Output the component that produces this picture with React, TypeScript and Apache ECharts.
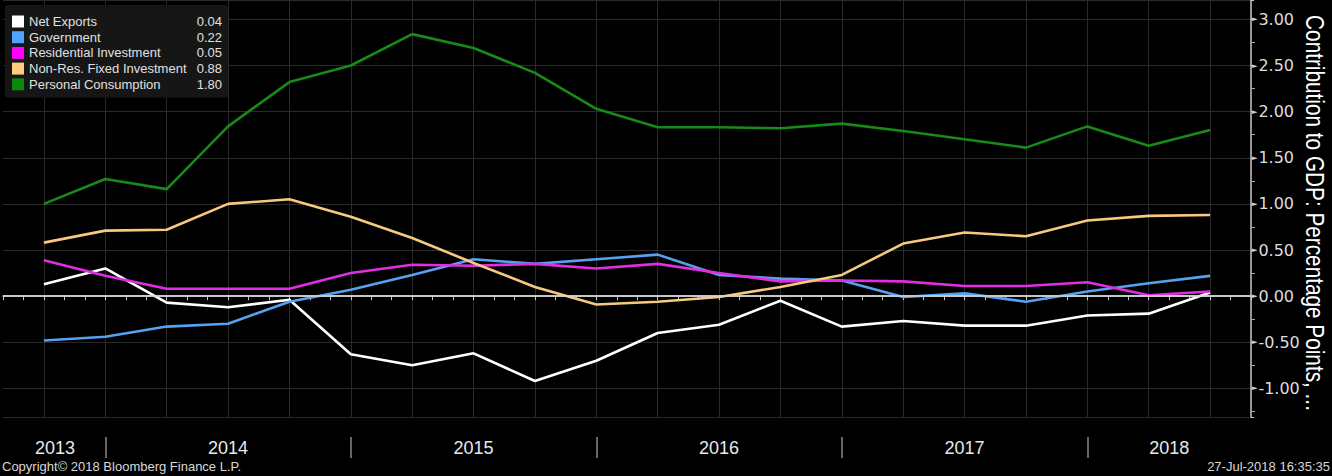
import React, { useEffect, useRef } from "react";
import * as echarts from "echarts";

// Quarter-end dates of the observations (YYYY-MM)
const quarterEnds = [
  "2013-09", "2013-12", "2014-03", "2014-06", "2014-09", "2014-12",
  "2015-03", "2015-06", "2015-09", "2015-12", "2016-03", "2016-06",
  "2016-09", "2016-12", "2017-03", "2017-06", "2017-09", "2017-12",
  "2018-03", "2018-06",
];

const netExports = [0.13, 0.30, -0.07, -0.12, -0.04, -0.63, -0.75, -0.62, -0.92, -0.70, -0.40, -0.31, -0.05, -0.33, -0.27, -0.32, -0.32, -0.21, -0.19, 0.04];
const government = [-0.48, -0.44, -0.33, -0.30, -0.06, 0.07, 0.23, 0.40, 0.35, 0.40, 0.45, 0.23, 0.19, 0.17, -0.01, 0.03, -0.06, 0.05, 0.14, 0.22];
const residential = [0.39, 0.22, 0.08, 0.08, 0.08, 0.25, 0.34, 0.33, 0.35, 0.30, 0.35, 0.25, 0.16, 0.17, 0.16, 0.11, 0.11, 0.15, 0.01, 0.05];
const nonResFixed = [0.58, 0.71, 0.72, 1.00, 1.05, 0.86, 0.63, 0.36, 0.10, -0.09, -0.06, -0.01, 0.10, 0.23, 0.57, 0.69, 0.65, 0.82, 0.87, 0.88];
const consumption = [1.00, 1.27, 1.16, 1.84, 2.32, 2.50, 2.84, 2.69, 2.42, 2.03, 1.83, 1.83, 1.82, 1.87, 1.79, 1.70, 1.61, 1.84, 1.63, 1.80];

const seriesNames = ["Net Exports", "Government", "Residential Investment", "Non-Res. Fixed Investment", "Personal Consumption"];
const seriesColors = ["#ffffff", "#55a2f0", "#e22ee2", "#f7c97f", "#178a17"];
const legendColors = ["#ffffff", "#4da3ff", "#ff00ff", "#ffcc80", "#0a8a0a"];

// Month axis range (first visible month to last visible month)
const axisStart = "2013-07";
const axisEnd = "2018-08";
// Year labels: [year, month category where label sits]
const yearLabels: [string, string][] = [
  ["2013", "2013-09"], ["2014", "2014-06"], ["2015", "2015-06"],
  ["2016", "2016-06"], ["2017", "2017-06"], ["2018", "2018-04"],
];

const yTitle = "Contribution to GDP: Percentage Points, ...";
const copyright = "Copyright\u00a9 2018 Bloomberg Finance L.P.";
const timestamp = "27-Jul-2018 16:35:35";

const SANS = "Liberation Sans, Arial, sans-serif";

function buildMonths(start: string, end: string): string[] {
  const [sy, sm] = start.split("-").map(Number);
  const [ey, em] = end.split("-").map(Number);
  const out: string[] = [];
  let y = sy, m = sm;
  while (y < ey || (y === ey && m <= em)) {
    out.push(`${y}-${String(m).padStart(2, "0")}`);
    m++;
    if (m > 12) { m = 1; y++; }
  }
  return out;
}

function measure(text: string, font: string): number {
  const c = document.createElement("canvas").getContext("2d");
  if (!c) return text.length * 10;
  c.font = font;
  return c.measureText(text).width;
}

export default function App() {
  const ref = useRef<HTMLDivElement>(null);

  useEffect(() => {
    if (!ref.current) return;
    const chart = echarts.init(ref.current, null, { renderer: "svg" });
    const months = buildMonths(axisStart, axisEnd);
    const allValues = [netExports, government, residential, nonResFixed, consumption];
    const toMonthly = (vals: number[]) =>
      months.map((mo) => {
        const i = quarterEnds.indexOf(mo);
        return i >= 0 ? vals[i] : null;
      });
    const labelMap: Record<string, string> = {};
    yearLabels.forEach(([y, mo]) => (labelMap[mo] = y));
    const lastVals: Record<string, string> = {};
    seriesNames.forEach((n, i) => (lastVals[n] = allValues[i][allValues[i].length - 1].toFixed(2)));

    const titleSize = 25;
    const titleW = measure(yTitle, `${titleSize}px Liberation Sans`);
    const titleScale = Math.min(1, 396 / titleW);

    const series: any[] = [
      {
        name: "__zero",
        type: "line",
        data: [],
        silent: true,
        z: 1,
        markLine: {
          silent: true,
          symbol: "none",
          label: { show: false },
          lineStyle: { color: "#d6d6d6", width: 1.5, type: "solid" },
          data: [{ yAxis: 0 }],
        },
      },
    ];
    seriesNames.forEach((n, i) => {
      series.push({
        name: n,
        type: "line",
        data: toMonthly(allValues[i]),
        connectNulls: true,
        showSymbol: false,
        symbol: "none",
        z: 3,
        lineStyle: { color: seriesColors[i], width: 2.6 },
        itemStyle: { color: legendColors[i] },
      });
    });

    chart.setOption({
      animation: false,
      backgroundColor: "#000000",
      grid: { left: 3, right: 81, top: 0, bottom: 59, containLabel: false },
      legend: {
        data: seriesNames.map((n) => ({ name: n, icon: "rect" })),
        orient: "vertical",
        left: 5,
        top: 5,
        padding: [10, 6, 7, 7],
        itemWidth: 12,
        itemHeight: 12,
        itemGap: 2.7,
        backgroundColor: "#161616",
        borderRadius: 3,
        selectedMode: false,
        formatter: (name: string) => `{n|${name}}{v|${lastVals[name]}}`,
        textStyle: {
          color: "#e0e0e0",
          fontFamily: SANS,
          fontSize: 13,
          rich: {
            n: { width: 160, fontSize: 13, color: "#e0e0e0", fontFamily: SANS },
            v: { width: 33, align: "right", fontSize: 13, color: "#e0e0e0", fontFamily: SANS },
          },
        },
      },
      xAxis: [
        {
          type: "category",
          data: months,
          boundaryGap: false,
          position: "bottom",
          axisLine: { show: true, lineStyle: { color: "#c8c8c8", width: 1.5 } },
          axisTick: { show: true, interval: 0, length: 4, lineStyle: { color: "#c8c8c8" } },
          splitLine: {
            show: true,
            interval: (_i: number, v: string) => quarterEnds.indexOf(v) >= 0,
            lineStyle: { color: "#2a2a2a", width: 1 },
          },
          axisLabel: {
            show: true,
            interval: (_i: number, v: string) => labelMap[v] !== undefined,
            formatter: (v: string) =>
              v === yearLabels[0][1] ? `{s|${labelMap[v]}}` : labelMap[v] || "",
            margin: 22,
            color: "#e8e8e8",
            fontSize: 18,
            fontFamily: SANS,
            rich: {
              s: { padding: [0, 0, 0, 22], fontSize: 18, color: "#e8e8e8", fontFamily: SANS },
            },
          },
        },
        {
          type: "category",
          data: months,
          boundaryGap: false,
          position: "bottom",
          offset: 20,
          axisLine: { show: false },
          axisLabel: { show: false },
          splitLine: { show: false },
          axisTick: {
            show: true,
            interval: (_i: number, v: string) => v.endsWith("-12"),
            length: 21,
            lineStyle: { color: "#8a8a8a", width: 1.5 },
          },
        },
      ],
      yAxis: {
        type: "value",
        position: "right",
        min: -1.31,
        max: 3.21,
        splitNumber: 9,
        axisLine: { show: true, lineStyle: { color: "#c8c8c8", width: 1.5 } },
        axisTick: { show: true, length: 3, lineStyle: { color: "#c8c8c8" } },
        minorTick: { show: true, splitNumber: 2, length: 4, lineStyle: { color: "#aaaaaa" } },
        splitLine: { show: true, lineStyle: { color: "#2a2a2a", width: 1 } },
        axisLabel: {
          showMinLabel: false,
          showMaxLabel: false,
          margin: 1,
          color: "#dcdcdc",
          fontSize: 16,
          fontFamily: "DejaVu Sans, sans-serif",
          formatter: (v: number) => `{t|\u25BA}${v.toFixed(2)}`,
          rich: {
            t: { fontSize: 7, color: "#d0d0d0", padding: [0, 1, 0, 0] },
          },
        },
      },
      graphic: [
        {
          type: "text",
          x: 1315,
          y: 213,
          rotation: -Math.PI / 2,
          scaleX: titleScale,
          scaleY: 1,
          style: {
            text: yTitle,
            fill: "#ffffff",
            fontSize: titleSize,
            fontFamily: "Liberation Sans",
            align: "center",
            verticalAlign: "middle",
          },
        },
        {
          type: "text",
          left: 2,
          top: 460,
          style: {
            text: copyright,
            fill: "#d8d8d8",
            fontSize: 13,
            fontFamily: SANS,
          },
        },
        {
          type: "text",
          right: 2,
          top: 460,
          style: {
            text: timestamp,
            fill: "#d8d8d8",
            fontSize: 13,
            fontFamily: SANS,
          },
        },
      ],
      series,
    });
    return () => chart.dispose();
  }, []);

  return (
    <div
      ref={ref}
      style={{ position: "fixed", left: 0, top: 0, width: 1332, height: 476, background: "#000" }}
    />
  );
}
